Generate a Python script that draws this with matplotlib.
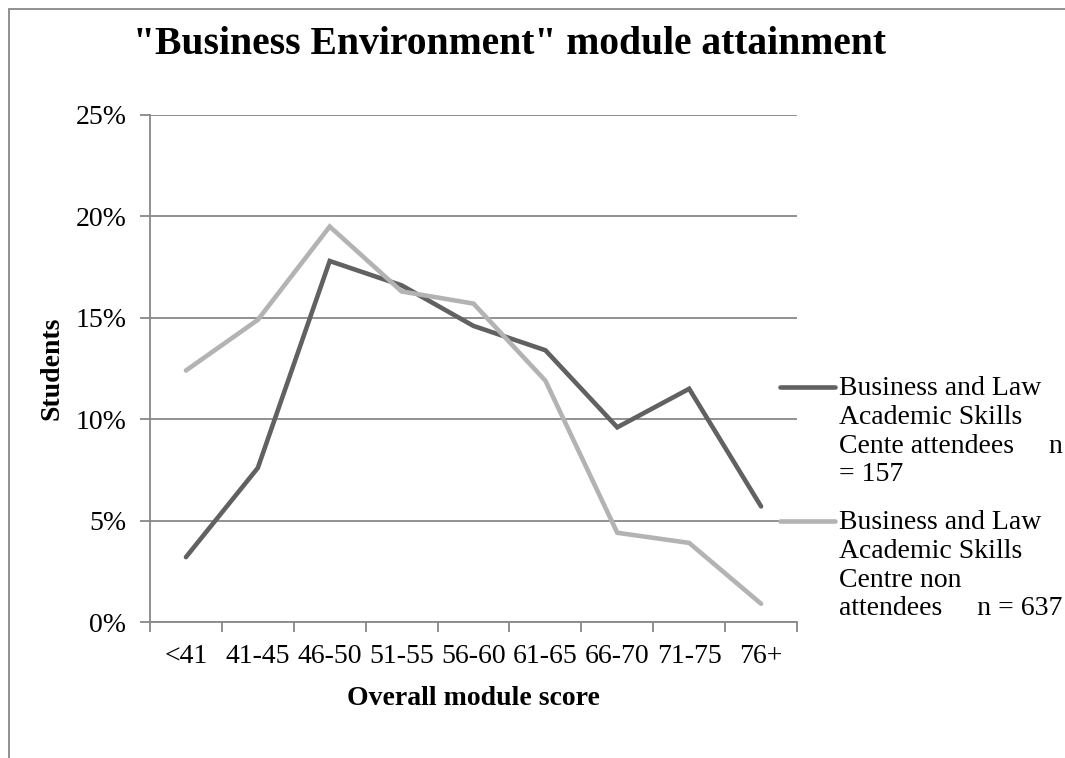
import numpy as np
import matplotlib
matplotlib.use("Agg")
import matplotlib.pyplot as plt
from matplotlib.lines import Line2D
from matplotlib.patches import Rectangle
from matplotlib.ticker import PercentFormatter

# score bands and share of students in each band (%)
bands = ["<41", "41-45", "46-50", "51-55", "56-60", "61-65", "66-70", "71-75", "76+"]
attendees = [3.2, 7.6, 17.8, 16.6, 14.6, 13.4, 9.6, 11.5, 5.7]
non_attendees = [12.4, 14.9, 19.5, 16.3, 15.7, 11.9, 4.4, 3.9, 0.9]
labels = ["Business and Law\nAcademic Skills\nCente attendees     n\n= 157",
          "Business and Law\nAcademic Skills\nCentre non\nattendees     n = 637"]
colors = ["#616161", "#b3b3b3"]
yticks = [0, 5, 10, 15, 20, 25]

W, H = 1065, 758
grid_col = "#888888"
plt.rcParams["font.family"] = ["Liberation Serif", "DejaVu Serif"]

fig = plt.figure(figsize=(W / 100, H / 100), dpi=100)
ax = fig.add_axes([150 / W, 1 - 622 / H, 647 / W, 507 / H])

x = np.arange(len(bands)) + 0.5
for vals, c in zip([attendees, non_attendees], colors):
    ax.plot(x, vals, color=c, lw=3.3, solid_joinstyle="miter", solid_capstyle="round", zorder=3)

ax.set_xlim(0, len(bands))
ax.set_ylim(0, 25)
ax.set_yticks(yticks)
ax.yaxis.set_major_formatter(PercentFormatter(decimals=0))
ax.set_xticks(np.arange(len(bands) + 1))
ax.set_xticklabels([])
ax.set_xticks(x, minor=True)
ax.set_xticklabels(bands, minor=True)
ax.tick_params(axis="x", which="minor", length=0, labelsize=20, pad=16)
ax.tick_params(axis="x", which="major", length=7, width=1.3, color=grid_col)
ax.tick_params(axis="y", length=7, width=1.3, color=grid_col, labelsize=20, pad=10)
ax.grid(axis="y", color=grid_col, lw=1.3)
ax.set_axisbelow(True)
for s in ["top", "right"]:
    ax.spines[s].set_visible(False)
for s in ["left", "bottom"]:
    ax.spines[s].set_color(grid_col)
    ax.spines[s].set_linewidth(1.3)

ax.set_xlabel("Overall module score", fontsize=20, fontweight="bold", labelpad=12)
ax.set_ylabel("Students", fontsize=20, fontweight="bold", labelpad=8)

fig.text(510 / W, 1 - 45 / H, '"Business Environment" module attainment',
         fontsize=28.5, fontweight="bold", ha="center", va="center")

# legend drawn beside the plot, key line level with the first text line
for lab, c, ky in zip(labels, colors, [387, 521]):
    fig.add_artist(Line2D([780 / W, 835 / W], [1 - ky / H, 1 - ky / H], color=c, lw=3.3,
                          solid_capstyle="round", transform=fig.transFigure))
    fig.text(839 / W, 1 - (ky - 11) / H, lab, fontsize=20, ha="left", va="top",
             linespacing=1.2)

# chart frame
fig.add_artist(Rectangle((9 / W, -0.1), 1.2, 1 - 9 / H + 0.1, fill=False, ec=grid_col, lw=1.3,
                         transform=fig.transFigure))

fig.savefig("out.png", dpi=100)
